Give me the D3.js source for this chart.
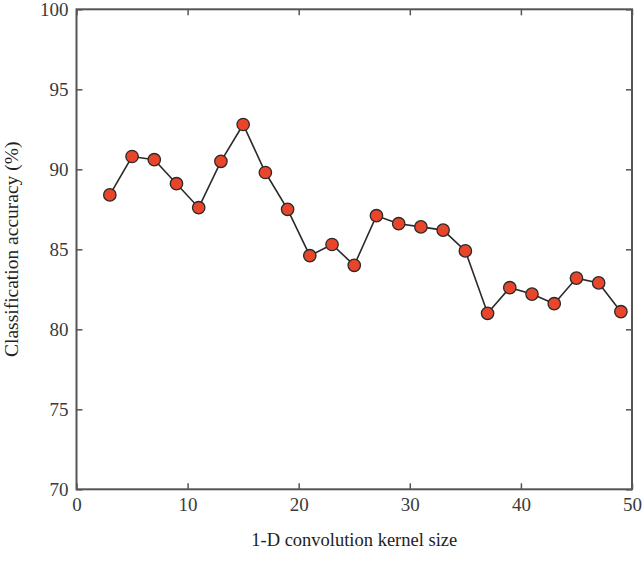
<!DOCTYPE html>
<html><head><meta charset="utf-8">
<script src="https://cdn.jsdelivr.net/npm/d3@7"></script>
<style>body{margin:0;background:#fff}</style>
</head><body>
<script>
const kernelSizes = [3,5,7,9,11,13,15,17,19,21,23,25,27,29,31,33,35,37,39,41,43,45,47,49];
const accuracy = [88.4,90.8,90.6,89.1,87.6,90.5,92.8,89.8,87.5,84.6,85.3,84.0,87.1,86.6,86.4,86.2,84.9,81.0,82.6,82.2,81.6,83.2,82.9,81.1];
const xTicks = [0,10,20,30,40,50];
const yTicks = [70,75,80,85,90,95,100];

const W = 643, H = 566;
const m = {left:76.5, right:11, top:9.3, bottom:76.7};
const svg = d3.select("body").append("svg").attr("width",W).attr("height",H);
const x = d3.scaleLinear().domain([0,50]).range([m.left, W-m.right]);
const y = d3.scaleLinear().domain([70,100]).range([H-m.bottom, m.top]);
const font = "'Liberation Serif', serif";
const axisCol = "#555";

function style(g){
  g.select(".domain").remove();
  g.selectAll(".tick line").attr("stroke",axisCol).attr("stroke-width",1.5);
  g.selectAll(".tick text").attr("font-family",font).attr("font-size",19).attr("fill","#3a3a3a");
}
svg.append("g").attr("transform",`translate(0,${y(70)})`)
  .call(d3.axisBottom(x).tickValues(xTicks).tickSizeInner(-6).tickSizeOuter(0).tickPadding(8))
  .call(style);
svg.append("g").attr("transform",`translate(0,${y(100)})`)
  .call(d3.axisTop(x).tickValues(xTicks).tickSizeInner(-6).tickSizeOuter(0).tickFormat(""))
  .call(style);
svg.append("g").attr("transform",`translate(${x(0)},0)`)
  .call(d3.axisLeft(y).tickValues(yTicks).tickSizeInner(-6).tickSizeOuter(0).tickPadding(8))
  .call(style);
svg.append("g").attr("transform",`translate(${x(50)},0)`)
  .call(d3.axisRight(y).tickValues(yTicks).tickSizeInner(-6).tickSizeOuter(0).tickFormat(""))
  .call(style);

svg.append("rect").attr("x",x(0)).attr("y",y(100)).attr("width",x(50)-x(0)).attr("height",y(70)-y(100))
  .attr("fill","none").attr("stroke",axisCol).attr("stroke-width",2);

const pts = kernelSizes.map((k,i)=>[k,accuracy[i]]);
svg.append("path").datum(pts)
  .attr("d", d3.line().x(d=>x(d[0])).y(d=>y(d[1])))
  .attr("fill","none").attr("stroke","#2a2a2a").attr("stroke-width",1.6);
svg.selectAll("circle.pt").data(pts).enter().append("circle").attr("class","pt")
  .attr("cx",d=>x(d[0])).attr("cy",d=>y(d[1])).attr("r",6.2)
  .attr("fill","#e8452a").attr("stroke","#2a2a2a").attr("stroke-width",1.3);

svg.append("text").attr("x",(x(0)+x(50))/2).attr("y",546)
  .attr("text-anchor","middle").attr("font-family",font).attr("font-size",18.5).attr("fill","#222")
  .text("1-D convolution kernel size");
svg.append("text").attr("transform",`translate(18,${(y(70)+y(100))/2}) rotate(-90)`)
  .attr("text-anchor","middle").attr("font-family",font).attr("font-size",19.5).attr("fill","#222")
  .text("Classification accuracy (%)");
</script>
</body></html>
